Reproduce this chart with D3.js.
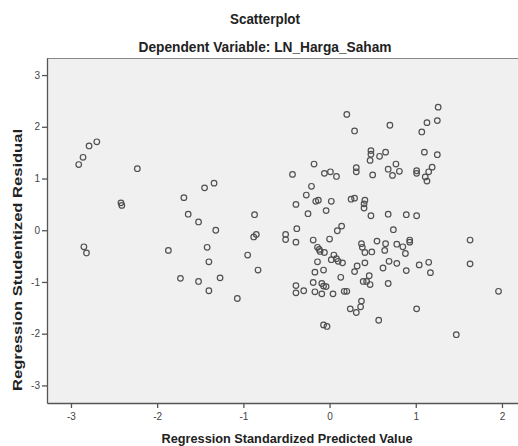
<!DOCTYPE html>
<html>
<head>
<meta charset="utf-8">
<script src="https://cdn.jsdelivr.net/npm/d3@7"></script>
<style>
  body { margin: 0; background: white; }
  svg { display: block; }
</style>
</head>
<body>
<div id="container"></div>
<script>
let w = 518;
let h = 446;

// Regression Standardized Predicted Value
let predicted = [
  -2.91, -2.86, -2.79, -2.70, -2.85, -2.82, -2.42, -2.41, -2.23, -1.87,
  -1.69, -1.64, -1.52, -1.45, -1.34, -1.32, -1.73, -1.52, -1.42, -1.40,
  -1.40, -1.27, -1.07, -0.95, -0.87, -0.88, -0.85, -0.83, -0.51, -0.51,
  -0.39, -0.38, -0.39, -0.43, -0.39, -0.39, -0.30, -0.27, -0.25, -0.21,
  -0.18, -0.16, -0.13, -0.19, -0.14, -0.12, -0.11, -0.06, -0.14, -0.17,
  -0.07, -0.19, -0.09, -0.07, -0.04, -0.17, -0.09, 0.04, -0.07, -0.03,
  -0.06, 0.01, 0.08, 0.02, -0.04, 0.00, 0.09, 0.14, 0.05, 0.02,
  0.08, 0.10, 0.15, 0.13, 0.17, 0.20, 0.20, 0.29, 0.25, 0.29,
  0.31, 0.31, 0.41, 0.40, 0.40, 0.48, 0.48, 0.48, 0.47, 0.58,
  0.65, 0.50, 0.70, 0.77, 0.68, 0.73, 0.81, 0.68, 0.89, 1.01,
  0.74, 0.37, 0.38, 0.41, 0.49, 0.55, 0.65, 0.64, 0.78, 0.85,
  0.93, 0.93, 0.88, 0.32, 0.29, 0.41, 0.46, 0.39, 0.43, 0.47,
  0.62, 0.69, 0.78, 0.89, 1.04, 1.15, 1.17, 0.68, 0.37, 0.36,
  0.24, 0.31, 0.57, 1.01, 1.47, 1.96, 1.63, 1.63, 1.01, 1.01,
  1.07, 1.13, 1.25, 1.26, 1.10, 1.25, 1.19, 1.15, 1.11, 1.13
];

// Regression Studentized Residual
let residual = [
  1.27, 1.41, 1.63, 1.71, -0.32, -0.44, 0.53, 0.48, 1.19, -0.39,
  0.63, 0.31, 0.16, 0.82, 0.91, 0.00, -0.93, -0.99, -0.33, -0.61,
  -1.17, -0.92, -1.32, -0.48, 0.30, -0.13, -0.08, -0.77, -0.08, -0.18,
  -0.23, 0.03, 0.50, 1.08, -1.07, -1.21, -1.17, 0.68, 0.32, 0.85,
  1.28, 0.56, 0.58, -0.19, -0.33, -0.37, -0.41, -0.43, -0.61, -0.81,
  -0.77, -1.01, -1.03, -1.08, -1.09, -1.19, -1.23, -1.23, -1.83, -1.86,
  1.10, 1.13, 1.04, 0.56, 0.38, -0.17, -0.01, 0.08, -0.48, -0.57,
  -0.55, -0.60, -0.63, -0.91, -1.18, -1.18, 2.24, 1.92, 0.60, 0.62,
  1.21, 1.13, 0.58, 0.51, 0.43, 0.28, 1.54, 1.47, 1.35, 1.43,
  1.51, 1.07, 2.03, 1.28, 1.18, 1.06, 1.14, 0.31, 0.30, 0.28,
  0.01, -0.26, -0.33, -0.43, -0.42, -0.21, -0.26, -0.39, -0.27, -0.32,
  -0.19, -0.23, -0.45, -0.69, -0.80, -0.63, -0.88, -0.99, -0.99, -1.05,
  -0.73, -0.60, -0.64, -0.78, -0.67, -0.62, -0.82, -1.03, -1.37, -1.48,
  -1.52, -1.59, -1.74, -1.52, -2.02, -1.18, -0.19, -0.65, 1.15, 1.10,
  1.90, 2.08, 2.12, 2.38, 1.51, 1.46, 1.22, 1.13, 1.03, 0.95
];

let xTicks = [-3, -2, -1, 0, 1, 2];
let yTicks = [-3, -2, -1, 0, 1, 2, 3];

let plotLeft = 47, plotRight = 518, plotTop = 58, plotBottom = 403;

let xScale = d3.scaleLinear().domain([-3.278, 2.186]).range([plotLeft, plotRight]);
let yScale = d3.scaleLinear().domain([-3.34, 3.33]).range([plotBottom, plotTop]);

let viz = d3.select("#container")
  .append("svg")
  .attr("width", w)
  .attr("height", h)
  .style("font-family", "'Liberation Sans', Arial, sans-serif");

viz.append("rect")
  .attr("x", plotLeft)
  .attr("y", plotTop)
  .attr("width", plotRight - plotLeft)
  .attr("height", plotBottom - plotTop)
  .attr("fill", "#f0f0f0");

viz.append("line")
  .attr("x1", plotLeft).attr("x2", plotRight)
  .attr("y1", plotTop + 0.5).attr("y2", plotTop + 0.5)
  .attr("stroke", "#888")
  .attr("stroke-width", 1);

let xAxis = viz.append("g")
  .attr("transform", "translate(0," + plotBottom + ")")
  .call(d3.axisBottom(xScale).tickValues(xTicks).tickSize(5).tickSizeOuter(0).tickFormat(d => String(d)));

let yAxis = viz.append("g")
  .attr("transform", "translate(" + plotLeft + ",0)")
  .call(d3.axisLeft(yScale).tickValues(yTicks).tickSize(5).tickSizeOuter(0).tickFormat(d => String(d)));

[xAxis, yAxis].forEach(function (ax) {
  ax.select(".domain").attr("stroke", "#555").attr("stroke-width", 1.3);
  ax.selectAll(".tick line").attr("stroke", "#555").attr("stroke-width", 1.3);
  ax.selectAll(".tick text")
    .attr("fill", "#444")
    .style("font-size", "10px")
    .style("font-family", "'Liberation Sans', Arial, sans-serif");
});
xAxis.selectAll(".tick text").attr("dy", "0.9em");
yAxis.selectAll(".tick text").attr("x", -7);

let points = predicted.map((p, i) => ({ x: p, y: residual[i] }));

viz.append("g")
  .selectAll("circle")
  .data(points)
  .enter()
  .append("circle")
  .attr("cx", d => xScale(d.x))
  .attr("cy", d => yScale(d.y))
  .attr("r", 2.8)
  .attr("fill", "none")
  .attr("stroke", "#505050")
  .attr("stroke-width", 1.2);

viz.append("text")
  .attr("x", 265)
  .attr("y", 24)
  .attr("text-anchor", "middle")
  .attr("font-weight", "bold")
  .attr("font-size", 14)
  .attr("fill", "#222")
  .attr("textLength", 70)
  .attr("lengthAdjust", "spacingAndGlyphs")
  .text("Scatterplot");

viz.append("text")
  .attr("x", 265)
  .attr("y", 52)
  .attr("text-anchor", "middle")
  .attr("font-weight", "bold")
  .attr("font-size", 14)
  .attr("fill", "#222")
  .attr("textLength", 253)
  .attr("lengthAdjust", "spacingAndGlyphs")
  .text("Dependent Variable: LN_Harga_Saham");

viz.append("text")
  .attr("x", 287)
  .attr("y", 443)
  .attr("text-anchor", "middle")
  .attr("font-weight", "bold")
  .attr("font-size", 13.5)
  .attr("fill", "#222")
  .attr("textLength", 251)
  .attr("lengthAdjust", "spacingAndGlyphs")
  .text("Regression Standardized Predicted Value");

viz.append("text")
  .attr("transform", "translate(22,260) rotate(-90)")
  .attr("text-anchor", "middle")
  .attr("font-weight", "bold")
  .attr("font-size", 13)
  .attr("fill", "#222")
  .attr("textLength", 262)
  .attr("lengthAdjust", "spacingAndGlyphs")
  .text("Regression Studentized Residual");
</script>
</body>
</html>
